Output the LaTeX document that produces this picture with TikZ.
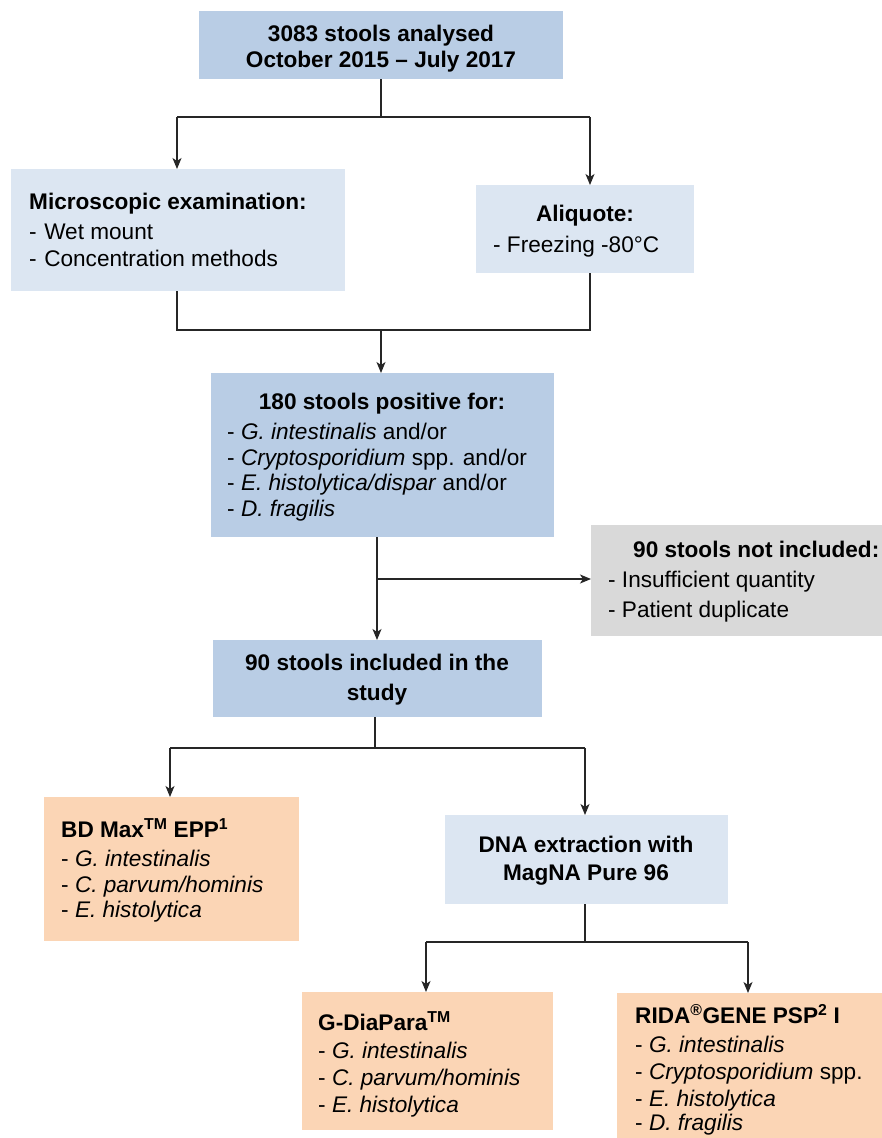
\documentclass[tikz,border=0pt]{standalone}
\usepackage{fontspec}
\setmainfont{Liberation Sans}
\usetikzlibrary{arrows.meta}
\definecolor{bdark}{HTML}{B9CDE5}
\definecolor{blight}{HTML}{DCE6F2}
\definecolor{gbox}{HTML}{D9D9D9}
\definecolor{pbox}{HTML}{FBD5B5}
\tikzset{
  box/.style={draw=none, inner sep=0pt, anchor=north west},
  lbl/.style={inner sep=0pt, font=\fontsize{22.6}{26}\selectfont},
  hdr/.style={lbl, font=\fontsize{22.6}{26}\selectfont\bfseries},
  conn/.style={line width=1.4pt, draw=black!85},
  arr/.style={conn, -{Stealth[length=11pt,width=9pt,inset=3pt]}}
}
\newcommand\boxat[6]{\node[box, fill=#6, minimum width=#4pt-#2pt, minimum height=#5pt-#3pt] (#1) at (#2,#3) {};}
\begin{document}
\begin{tikzpicture}[x=1pt,y=-1pt]
\useasboundingbox[fill=white] (0,0) rectangle (882,1138);
% boxes
\boxat{top}{199}{11}{563}{79}{bdark}
\boxat{micro}{11}{169}{345}{291}{blight}
\boxat{aliq}{476}{185}{694}{273}{blight}
\boxat{pos}{211}{373}{554}{537}{bdark}
\boxat{notinc}{591}{525}{882}{636}{gbox}
\boxat{inc}{213}{640}{542}{717}{bdark}
\boxat{bdmax}{44}{797}{299}{941}{pbox}
\boxat{dna}{445}{815}{728}{904}{blight}
\boxat{gdia}{302}{992}{553}{1130}{pbox}
\boxat{rida}{617}{993}{882}{1138}{pbox}
% texts
\node[hdr, anchor=base] (t1) at (381,41) {3083 stools analysed};
\node[hdr, anchor=base] (t2) at (381,67) {October 2015 -- July 2017};
\node[hdr, anchor=base west] (m1) at (29,209) {Microscopic examination:};
\node[lbl, anchor=base west] (m2) at (29,239) {-\,\,Wet mount};
\node[lbl, anchor=base west] (m3) at (29,266) {-\,\,Concentration methods};
\node[hdr, anchor=base] (a1) at (585,221) {Aliquote:};
\node[lbl, anchor=base west] (a2) at (493,252) {- Freezing -80°C};
\node[hdr, anchor=base] (p1) at (382,409) {180 stools positive for:};
\node[lbl, anchor=base west] (p2) at (227,439) {- \textit{G. intestinalis} and/or};
\node[lbl, anchor=base west] (p3) at (227,465) {- \textit{Cryptosporidium} spp. and/or};
\node[lbl, anchor=base west] (p4) at (227,490) {- \textit{E. histolytica/dispar} and/or};
\node[lbl, anchor=base west] (p5) at (227,516) {- \textit{D. fragilis}};
\node[hdr, anchor=base west] (n1) at (633,557) {90 stools not included:};
\node[lbl, anchor=base west] (n2) at (608,587) {- Insufficient quantity};
\node[lbl, anchor=base west] (n3) at (608,617) {- Patient duplicate};
\node[hdr, anchor=base] (i1) at (377,670) {90 stools included in the};
\node[hdr, anchor=base] (i2) at (377,700) {study};
\node[hdr, anchor=base west] (b1) at (61,837) {BD Max\textsuperscript{TM} EPP\textsuperscript{1}};
\node[lbl, anchor=base west] (b2) at (61,866) {- \textit{G. intestinalis}};
\node[lbl, anchor=base west] (b3) at (61,892) {- \textit{C. parvum/hominis}};
\node[lbl, anchor=base west] (b4) at (61,917) {- \textit{E. histolytica}};
\node[hdr, anchor=base] (d1) at (586,852) {DNA extraction with};
\node[hdr, anchor=base] (d2) at (586,880) {MagNA Pure 96};
\node[hdr, anchor=base west] (g1) at (318,1030) {G-DiaPara\textsuperscript{TM}};
\node[lbl, anchor=base west] (g2) at (318,1058) {- \textit{G. intestinalis}};
\node[lbl, anchor=base west] (g3) at (318,1085) {- \textit{C. parvum/hominis}};
\node[lbl, anchor=base west] (g4) at (318,1112) {- \textit{E. histolytica}};
\node[hdr, anchor=base west] (r1) at (635,1023) {RIDA\textsuperscript{®}GENE PSP\textsuperscript{2} I};
\node[lbl, anchor=base west] (r2) at (635,1052) {- \textit{G. intestinalis}};
\node[lbl, anchor=base west] (r3) at (635,1079) {- \textit{Cryptosporidium} spp.};
\node[lbl, anchor=base west] (r4) at (635,1106) {- \textit{E. histolytica}};
\node[lbl, anchor=base west] (r5) at (635,1130) {- \textit{D. fragilis}};
% junction coordinates
\coordinate (j1) at (381,117);
\coordinate (j1l) at (177,117);
\coordinate (j1r) at (590,117);
\coordinate (j2) at (381,330);
\coordinate (j2l) at (177,330);
\coordinate (j2r) at (590,330);
\coordinate (j3) at (377,579);
\coordinate (j4) at (375,748);
\coordinate (j4l) at (170,748);
\coordinate (j4r) at (585,748);
\coordinate (j5) at (585,942);
\coordinate (j5l) at (426,942);
\coordinate (j5r) at (748,942);
% connectors
\draw[conn] (top.south -| j1) -- (j1);
\draw[conn] (j1l) -- (j1r);
\draw[arr] (j1l) -- (micro.north -| j1l);
\draw[arr] (j1r) -- (aliq.north -| j1r);
\draw[conn] (micro.south -| j2l) -- (j2l) -- (j2r) -- (aliq.south -| j2r);
\draw[arr] (j2) -- (pos.north -| j2);
\draw[arr] (pos.south -| j3) -- (inc.north -| j3);
\draw[arr] (j3) -- (notinc.west |- j3);
\draw[conn] (inc.south -| j4) -- (j4);
\draw[conn] (j4l) -- (j4r);
\draw[arr] (j4l) -- (bdmax.north -| j4l);
\draw[arr] (j4r) -- (dna.north -| j4r);
\draw[conn] (dna.south -| j5) -- (j5);
\draw[conn] (j5l) -- (j5r);
\draw[arr] (j5l) -- (gdia.north -| j5l);
\draw[arr] (j5r) -- (rida.north -| j5r);
\end{tikzpicture}
\end{document}
